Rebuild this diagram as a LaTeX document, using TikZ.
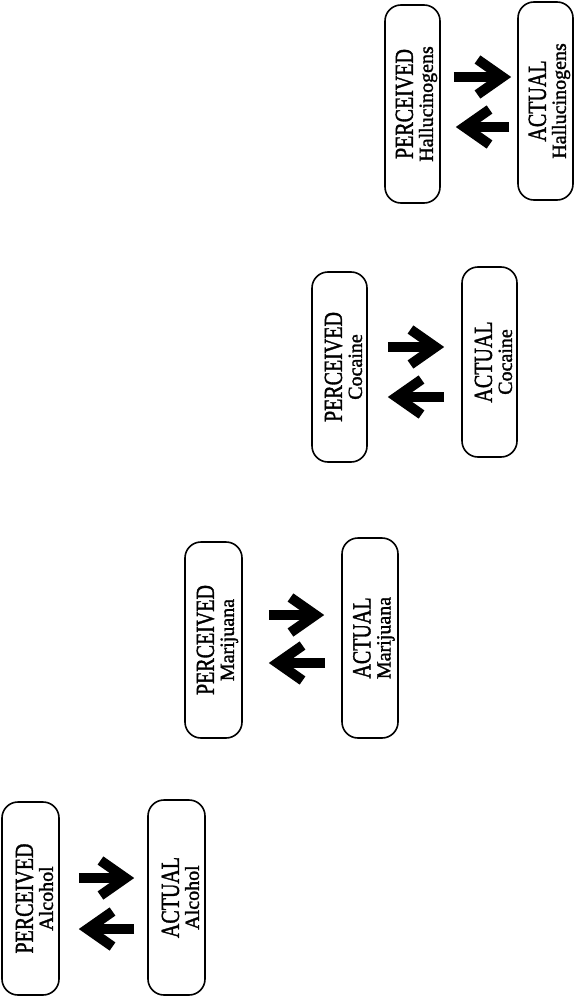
\documentclass[tikz,border=0pt]{standalone}
\usepackage{fontspec}
\usepackage{graphicx}
\setmainfont{Liberation Serif}[FakeBold=1.6]
\usetikzlibrary{arrows.meta,calc}
\tikzset{
  box/.style={draw, line width=1.6pt, rounded corners=16pt, rotate=90, align=center,
    inner sep=0pt, font=\fontsize{20}{20}\selectfont},
  bigarrow/.style={line width=10pt, -{Straight Barb[sharp,length=25pt,width=35pt]}},
}
\newcommand{\twolines}[2]{\rule{0pt}{25pt}\scalebox{1}[1.3]{#1}\\#2}
\begin{document}
\begin{tikzpicture}[x=1pt,y=1pt]
\useasboundingbox (0,0) rectangle (573,-1006);
% Alcohol
\node[box, minimum width=193pt, minimum height=57pt] (P1) at (30.5,-898.5) {\twolines{PERCEIVED}{Alcohol}};
\node[box, minimum width=195pt, minimum height=57pt] (A1) at (176.5,-897.5) {\twolines{ACTUAL}{Alcohol}};
\draw[bigarrow, shorten <=19pt, shorten >=13pt] ($(P1.south)+(0,20.5)$) -- ($(P1.south -| A1.north)+(0,20.5)$);
\draw[bigarrow, shorten <=13pt, shorten >=19pt] ($(P1.south -| A1.north)+(0,-30.5)$) -- ($(P1.south)+(0,-30.5)$);
% Marijuana
\node[box, minimum width=196pt, minimum height=57pt] (P2) at (213.5,-640) {\twolines{PERCEIVED}{Marijuana}};
\node[box, minimum width=200pt, minimum height=56pt] (A2) at (370,-638) {\twolines{ACTUAL}{Marijuana}};
\draw[bigarrow, shorten <=26pt, shorten >=17pt] ($(P2.south)+(0,25)$) -- ($(P2.south -| A2.north)+(0,25)$);
\draw[bigarrow, shorten <=16pt, shorten >=26pt] ($(P2.south -| A2.north)+(0,-23)$) -- ($(P2.south)+(0,-23)$);
% Cocaine
\node[box, minimum width=190pt, minimum height=55pt] (P3) at (339.5,-367) {\twolines{PERCEIVED}{Cocaine}};
\node[box, minimum width=190pt, minimum height=55pt] (A3) at (489.5,-362) {\twolines{ACTUAL}{Cocaine}};
\draw[bigarrow, shorten <=20pt, shorten >=17pt] ($(P3.south)+(0,20)$) -- ($(P3.south -| A3.north)+(0,20)$);
\draw[bigarrow, shorten <=17pt, shorten >=20pt] ($(P3.south -| A3.north)+(0,-30)$) -- ($(P3.south)+(0,-30)$);
% Hallucinogens
\node[box, minimum width=198pt, minimum height=55pt] (P4) at (412.5,-104) {\twolines{PERCEIVED}{Hallucinogens}};
\node[box, minimum width=198pt, minimum height=55pt] (A4) at (545.5,-101) {\twolines{ACTUAL}{Hallucinogens}};
\draw[bigarrow, shorten <=13pt, shorten >=6pt] ($(P4.south)+(0,27)$) -- ($(P4.south -| A4.north)+(0,27)$);
\draw[bigarrow, shorten <=8pt, shorten >=15pt] ($(P4.south -| A4.north)+(0,-23)$) -- ($(P4.south)+(0,-23)$);
\end{tikzpicture}
\end{document}
